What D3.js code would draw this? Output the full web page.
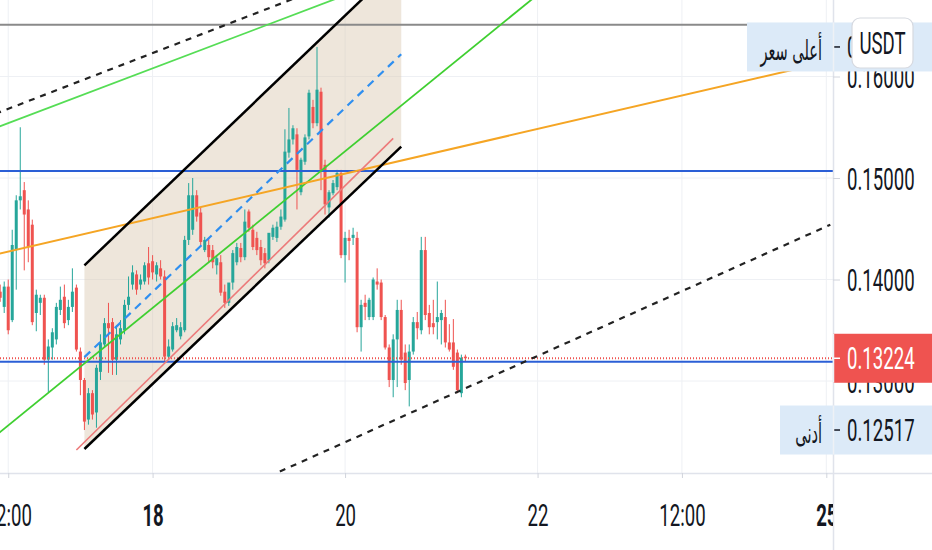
<!DOCTYPE html>
<html>
<head>
<meta charset="utf-8">
<script src="https://cdn.jsdelivr.net/npm/d3@7"></script>
<style>
  body { margin: 0; background: #fff; }
  svg { display: block; font-family: Roboto, 'DejaVu Sans', sans-serif; }
</style>
</head>
<body>
<svg width="932" height="550"></svg>
<script>
const firstCandle = '2023-10-16T10:00Z';

const open = [
  0.1388, 0.1373, 0.1393, 0.1360, 0.1429, 0.1478, 0.1488, 0.1469, 0.1454, 0.1367,
  0.1377, 0.1382, 0.1321, 0.1333, 0.1341, 0.1370, 0.1383, 0.1360, 0.1373, 0.1392,
  0.1329, 0.1301, 0.1262, 0.1288, 0.1269, 0.1309, 0.1336, 0.1357, 0.1358, 0.1321,
  0.1341, 0.1350, 0.1375, 0.1395, 0.1405, 0.1395, 0.1398, 0.1416, 0.1418, 0.1405,
  0.1411, 0.1403, 0.1324, 0.1331, 0.1350, 0.1344, 0.1350, 0.1439, 0.1449, 0.1483,
  0.1466, 0.1429, 0.1434, 0.1429, 0.1414, 0.1417, 0.1388, 0.1377, 0.1397, 0.1417,
  0.1431, 0.1422, 0.1467, 0.1449, 0.1441, 0.1432, 0.1426, 0.1419, 0.1442, 0.1441,
  0.1452, 0.1459, 0.1525, 0.1538, 0.1543, 0.1486, 0.1516, 0.1541, 0.1570, 0.1554,
  0.1585, 0.1513, 0.1471, 0.1485, 0.1491, 0.1505, 0.1424, 0.1441, 0.1441, 0.1441,
  0.1353, 0.1377, 0.1363, 0.1363, 0.1398, 0.1397, 0.1363, 0.1333, 0.1301, 0.1341,
  0.1370, 0.1328, 0.1301, 0.1329, 0.1358, 0.1350, 0.1429, 0.1367, 0.1357, 0.1358,
  0.1360, 0.1363, 0.1338, 0.1338, 0.1328, 0.1288, 0.1324,
];
const high = [
  0.1395, 0.1398, 0.1400, 0.1449, 0.1483, 0.1550, 0.1496, 0.1478, 0.1459, 0.1390,
  0.1385, 0.1385, 0.1341, 0.1352, 0.1377, 0.1393, 0.1395, 0.1380, 0.1411, 0.1395,
  0.1333, 0.1303, 0.1293, 0.1291, 0.1316, 0.1346, 0.1362, 0.1377, 0.1362, 0.1355,
  0.1360, 0.1380, 0.1403, 0.1414, 0.1409, 0.1405, 0.1417, 0.1432, 0.1424, 0.1417,
  0.1419, 0.1409, 0.1341, 0.1358, 0.1362, 0.1358, 0.1443, 0.1495, 0.1500, 0.1488,
  0.1471, 0.1442, 0.1441, 0.1434, 0.1424, 0.1424, 0.1395, 0.1390, 0.1429, 0.1436,
  0.1436, 0.1469, 0.1469, 0.1454, 0.1447, 0.1439, 0.1431, 0.1436, 0.1454, 0.1457,
  0.1469, 0.1548, 0.1569, 0.1552, 0.1549, 0.1520, 0.1543, 0.1587, 0.1577, 0.16291,
  0.1589, 0.1518, 0.1488, 0.1498, 0.1508, 0.1508, 0.1447, 0.1449, 0.1451, 0.1447,
  0.1380, 0.1385, 0.1382, 0.1402, 0.1411, 0.1400, 0.1365, 0.1336, 0.1346, 0.1380,
  0.1380, 0.1336, 0.1336, 0.1363, 0.1368, 0.1442, 0.1442, 0.1375, 0.1380, 0.1398,
  0.1370, 0.1380, 0.1356, 0.1361, 0.1331, 0.1326, 0.1326,
];
const low = [
  0.1378, 0.1367, 0.1346, 0.1358, 0.1390, 0.1469, 0.1409, 0.1417, 0.1355, 0.1349,
  0.1365, 0.1316, 0.1289, 0.1321, 0.1336, 0.1365, 0.1352, 0.1355, 0.1368, 0.1329,
  0.1286, 0.12517, 0.1257, 0.1262, 0.1254, 0.1301, 0.1333, 0.1308, 0.1306, 0.1306,
  0.1336, 0.1346, 0.1370, 0.1390, 0.1385, 0.1390, 0.1395, 0.1395, 0.1400, 0.1398,
  0.1400, 0.1319, 0.1321, 0.1329, 0.1348, 0.1341, 0.1348, 0.1434, 0.1444, 0.1457,
  0.1434, 0.1427, 0.1417, 0.1411, 0.1405, 0.1384, 0.1372, 0.1374, 0.1390, 0.1414,
  0.1417, 0.1419, 0.1447, 0.1429, 0.1424, 0.1414, 0.1411, 0.1416, 0.1439, 0.1437,
  0.1449, 0.1457, 0.1520, 0.1533, 0.1469, 0.1483, 0.1513, 0.1538, 0.1549, 0.1551,
  0.1488, 0.1464, 0.1461, 0.1483, 0.1488, 0.1421, 0.1397, 0.1419, 0.1434, 0.1348,
  0.1329, 0.1360, 0.1360, 0.1360, 0.1390, 0.1360, 0.1331, 0.1294, 0.1284, 0.1294,
  0.1316, 0.1291, 0.1275, 0.1326, 0.1341, 0.1346, 0.1360, 0.1346, 0.1346, 0.1341,
  0.1336, 0.1333, 0.1329, 0.1311, 0.1288, 0.1284, 0.1319,
];
const close = [
  0.1382, 0.1393, 0.1350, 0.1434, 0.1478, 0.1482, 0.1464, 0.1432, 0.1358, 0.1385,
  0.1382, 0.1321, 0.1334, 0.1348, 0.1373, 0.1380, 0.1357, 0.1373, 0.1388, 0.1331,
  0.1301, 0.1260, 0.1288, 0.1267, 0.1313, 0.1338, 0.1357, 0.1352, 0.1321, 0.1346,
  0.1352, 0.1375, 0.1383, 0.1407, 0.1390, 0.1400, 0.1414, 0.1402, 0.1407, 0.1414,
  0.1403, 0.1324, 0.1334, 0.1354, 0.1355, 0.1353, 0.1439, 0.1483, 0.1483, 0.1462,
  0.1437, 0.1439, 0.1422, 0.1417, 0.1421, 0.1387, 0.1377, 0.1397, 0.1426, 0.1432,
  0.1422, 0.1457, 0.1451, 0.1432, 0.1429, 0.1419, 0.1416, 0.1446, 0.1451, 0.1452,
  0.1462, 0.1526, 0.1538, 0.1549, 0.1508, 0.1518, 0.1540, 0.1584, 0.1554, 0.1587,
  0.1508, 0.1474, 0.1486, 0.1495, 0.1505, 0.1424, 0.1441, 0.1438, 0.1444, 0.1353,
  0.1375, 0.1373, 0.1380, 0.1400, 0.1395, 0.1363, 0.1333, 0.1301, 0.1341, 0.1370,
  0.1321, 0.1298, 0.1329, 0.1358, 0.1352, 0.1429, 0.1365, 0.1353, 0.1353, 0.1363,
  0.1367, 0.1338, 0.1331, 0.1314, 0.1291, 0.1323, 0.13224,
];

const priceTicks = [0.13, 0.14, 0.15, 0.16];
const timeTicks = ['2023-10-16T12:00Z', '2023-10-18T00:00Z', '2023-10-20T00:00Z', '2023-10-22T00:00Z', '2023-10-23T12:00Z', '2023-10-25T00:00Z'];
const timeLabels = ['12:00', '18', '20', '22', '12:00', '25'];

const grayLevel = 0.1651;
const blueLevels = [0.1507, 0.1319];
const channelTop = [['2023-10-17T07:00Z', 0.1414], ['2023-10-20T14:00Z', 0.1713]];
const channelBottom = [['2023-10-17T07:00Z', 0.1233], ['2023-10-20T14:00Z', 0.1531]];
const redLine = [['2023-10-17T05:00Z', 0.1232], ['2023-10-20T12:00Z', 0.1539]];
const greenLow = [['2023-10-16T06:00Z', 0.1237], ['2023-10-22T02:00Z', 0.1687]];
const greenHigh = [['2023-10-16T06:00Z', 0.1545], ['2023-10-20T00:00Z', 0.1680]];
const dashedHigh = [['2023-10-16T06:00Z', 0.1559], ['2023-10-19T14:00Z', 0.1681]];
const dashedLow = [['2023-10-19T05:00Z', 0.1206], ['2023-10-25T01:00Z', 0.1454]];
const orangeLine = [['2023-10-16T06:00Z', 0.1422], ['2023-10-25T02:00Z', 0.1616]];

const plotW = 833;
const plotH = 473;
const squeeze = 0.6;
const textColor = '#131722';

const x = d3
  .scaleUtc()
  .domain([new Date(firstCandle), new Date('2023-10-25T00:00Z')])
  .range([0.2, 826.3]);
const y = d3.scaleLinear().domain([0.12, 0.17]).range([482.5, -25]);

const candles = open.map((o, i) => ({
  t: d3.utcHour.offset(new Date(firstCandle), i),
  o,
  h: high[i],
  l: low[i],
  c: close[i],
}));
const lastClose = close[close.length - 1];
const maxHigh = d3.max(high);
const minLow = d3.min(low);

const svg = d3.select('svg');
const defs = svg.append('defs');
defs.append('clipPath').attr('id', 'plotclip')
  .append('rect').attr('width', plotW).attr('height', plotH);
defs.append('clipPath').attr('id', 'timeclip')
  .append('rect').attr('y', plotH).attr('width', plotW).attr('height', 550 - plotH);

const grid = svg.append('g').attr('stroke', '#eef0f4').attr('stroke-width', 1);
grid.selectAll('line.h').data(priceTicks).enter().append('line')
  .attr('x1', 0).attr('x2', plotW)
  .attr('y1', (d) => y(d)).attr('y2', (d) => y(d));
grid.selectAll('line.v').data(timeTicks).enter().append('line')
  .attr('x1', (d) => x(new Date(d))).attr('x2', (d) => x(new Date(d)))
  .attr('y1', 0).attr('y2', plotH);

const plot = svg.append('g').attr('clip-path', 'url(#plotclip)');
const pt = (p) => [x(new Date(p[0])), y(p[1])];

const channelArea = [pt(channelTop[0]), pt(channelTop[1]), pt(channelBottom[1]), pt(channelBottom[0])];
plot.append('path')
  .attr('d', d3.line()(channelArea) + 'Z')
  .attr('fill', '#d9c7b0')
  .attr('fill-opacity', 0.45);

const candle = plot.selectAll('g.candle').data(candles).enter().append('g');
const candleColor = (d) => (d.c >= d.o ? '#26a69a' : '#ef5350');
candle.append('line')
  .attr('x1', (d) => x(d.t)).attr('x2', (d) => x(d.t))
  .attr('y1', (d) => y(d.h)).attr('y2', (d) => y(d.l))
  .attr('stroke', candleColor).attr('stroke-width', 1);
candle.append('rect')
  .attr('x', (d) => x(d.t) - 1.5)
  .attr('width', 3)
  .attr('y', (d) => y(Math.max(d.o, d.c)))
  .attr('height', (d) => Math.max(1, Math.abs(y(d.o) - y(d.c))))
  .attr('fill', candleColor);

const drawLine = (pts, color, w, dash) => {
  const [a, b] = pts.map(pt);
  plot.append('line')
    .attr('x1', a[0]).attr('y1', a[1]).attr('x2', b[0]).attr('y2', b[1])
    .attr('stroke', color).attr('stroke-width', w)
    .attr('stroke-dasharray', dash || null);
};
const drawLevel = (v, color, w, dash) => {
  plot.append('line')
    .attr('x1', 0).attr('x2', plotW).attr('y1', y(v)).attr('y2', y(v))
    .attr('stroke', color).attr('stroke-width', w)
    .attr('stroke-dasharray', dash || null);
};

drawLevel(grayLevel, '#8a8a8a', 2);
blueLevels.forEach((v) => drawLevel(v, '#2b5fd6', 2));
drawLevel(lastClose, '#ef5350', 2, '1 2');

drawLine(dashedHigh, '#222', 2.2, '6 6');
drawLine(dashedLow, '#222', 2.2, '6 6');
drawLine(greenHigh, '#55dd55', 1.8);
drawLine(greenLow, '#3fcf30', 1.8);
drawLine(orangeLine, '#f5a524', 2);
drawLine(channelTop, '#000', 2.5);
drawLine(channelBottom, '#000', 2.5);
drawLine([[channelTop[0][0], (channelTop[0][1] + channelBottom[0][1]) / 2], [channelTop[1][0], (channelTop[1][1] + channelBottom[1][1]) / 2]], '#2f8ff0', 2.2, '8 6');
drawLine(redLine, '#ec7a7a', 1.6);

svg.append('line')
  .attr('x1', 0).attr('x2', 932).attr('y1', plotH + 0.5).attr('y2', plotH + 0.5)
  .attr('stroke', '#e0e3eb').attr('stroke-width', 1.5);
svg.append('line')
  .attr('x1', plotW + 0.5).attr('x2', plotW + 0.5).attr('y1', 0).attr('y2', 550)
  .attr('stroke', '#e0e3eb').attr('stroke-width', 1.5);

const xAxis = d3
  .axisBottom(x)
  .tickValues(timeTicks.map((d) => new Date(d)))
  .tickFormat((d, i) => timeLabels[i])
  .tickSize(5);
const xa = svg.append('g').attr('clip-path', 'url(#timeclip)')
  .append('g').attr('transform', `translate(0,${plotH})`).call(xAxis);
xa.select('.domain').remove();
xa.selectAll('line').attr('stroke', '#d1d4dc');
xa.selectAll('text')
  .attr('y', 42).attr('dy', '0.36em')
  .attr('transform', `scale(${squeeze},1)`)
  .attr('font-family', 'Roboto, sans-serif')
  .attr('font-size', 31)
  .attr('font-weight', (d, i) => (i === 1 || i === 5 ? 700 : 400))
  .attr('fill', textColor);

const yAxis = d3
  .axisRight(y)
  .tickValues(priceTicks)
  .tickFormat(d3.format('.5f'))
  .tickSize(7);
const ya = svg.append('g').attr('transform', `translate(${plotW},0)`).call(yAxis);
ya.select('.domain').remove();
ya.selectAll('line').attr('stroke', '#d1d4dc');
ya.selectAll('text')
  .attr('x', 14 / squeeze).attr('dy', '0.36em')
  .attr('transform', `scale(${squeeze},1)`)
  .attr('font-family', 'Roboto, sans-serif')
  .attr('font-size', 31)
  .attr('fill', textColor);

const priceLabel = (v, left, fill, color, name) => {
  const cy = y(v);
  const lab = svg.append('g');
  lab.append('rect')
    .attr('x', left).attr('y', cy - 24.5)
    .attr('width', 932 - left).attr('height', 49)
    .attr('fill', fill);
  lab.append('line')
    .attr('x1', plotW).attr('x2', plotW + 7).attr('y1', cy).attr('y2', cy)
    .attr('stroke', color).attr('stroke-width', 1.5);
  lab.append('text')
    .attr('transform', `translate(${plotW + 14},${cy}) scale(${squeeze},1)`)
    .attr('dy', '0.36em')
    .attr('font-family', 'Roboto, sans-serif')
    .attr('font-size', 31)
    .attr('fill', color)
    .text(d3.format('.5f')(v));
  if (name) {
    lab.append('text')
      .attr('transform', `translate(${plotW - 11},${cy + 3}) scale(0.52,1)`)
      .attr('dy', '0.36em')
      .attr('text-anchor', 'end')
      .attr('font-family', "'DejaVu Sans', sans-serif")
      .attr('font-size', 28)
      .attr('fill', textColor)
      .text(name);
  }
  svg.append('line')
    .attr('x1', plotW + 0.5).attr('x2', plotW + 0.5)
    .attr('y1', cy - 24.5).attr('y2', cy + 24.5)
    .attr('stroke', '#eef1f6').attr('stroke-width', 1.5);
};

priceLabel(maxHigh, 747, '#dceaf8', textColor, 'أعلى سعر');
priceLabel(minLow, 780, '#dceaf8', textColor, 'أدنى');
priceLabel(lastClose, plotW, '#ef5350', '#ffffff');

const btn = svg.append('g').attr('transform', 'translate(852,18)');
btn.append('rect')
  .attr('width', 61).attr('height', 50).attr('rx', 8)
  .attr('fill', '#fff').attr('stroke', '#d6d9e0').attr('stroke-width', 1.2);
btn.append('text')
  .attr('transform', `translate(30.5,25) scale(${squeeze},1)`)
  .attr('dy', '0.36em')
  .attr('text-anchor', 'middle')
  .attr('font-family', 'Roboto, sans-serif')
  .attr('font-size', 31)
  .attr('fill', textColor)
  .text('USDT');
</script>
</body>
</html>
